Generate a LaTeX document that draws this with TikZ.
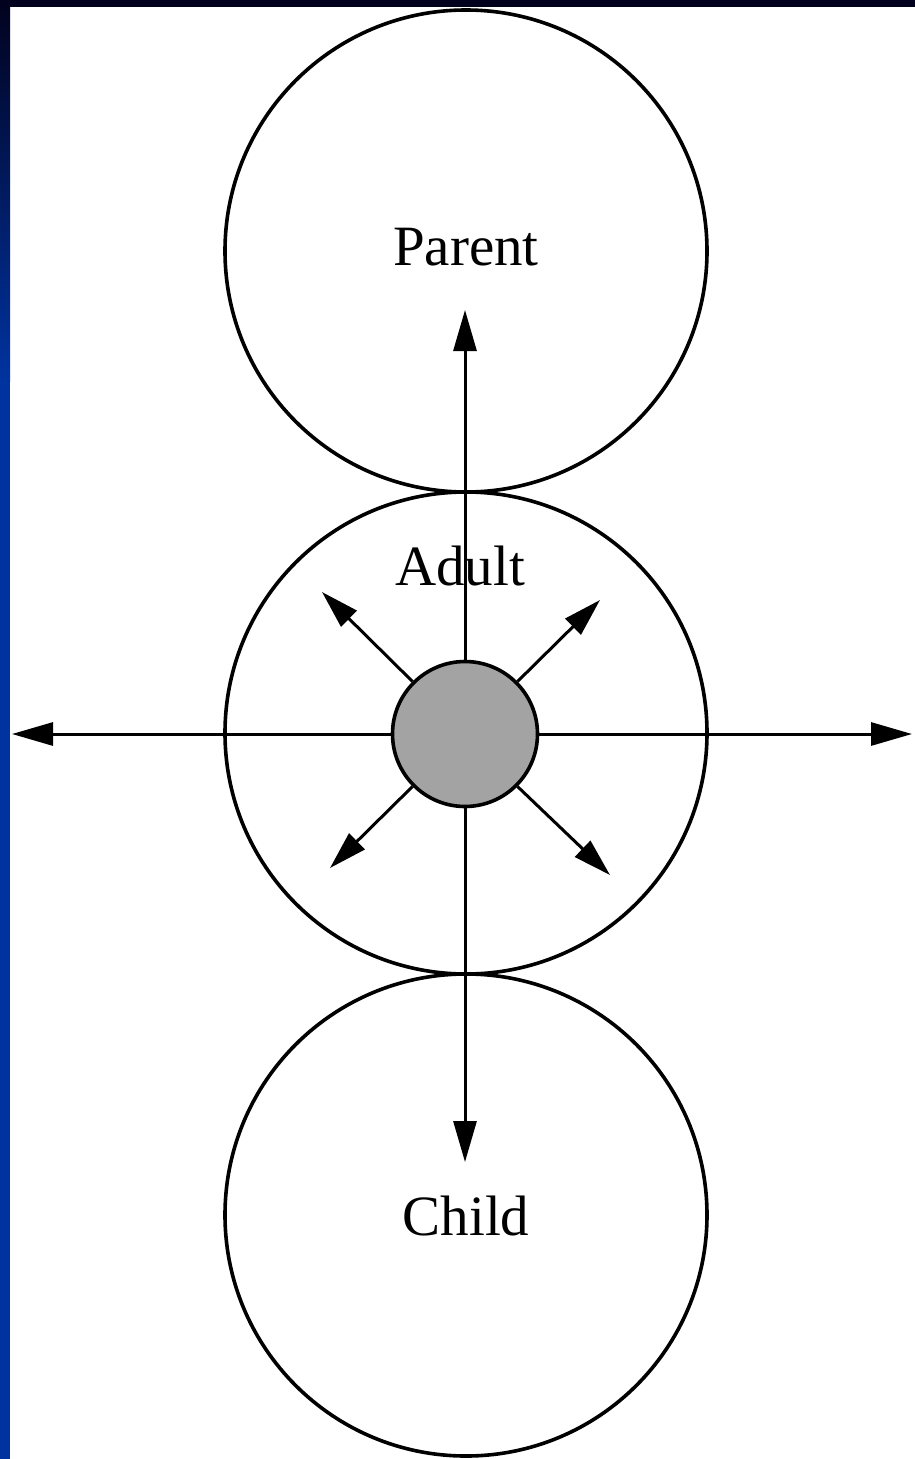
\documentclass[tikz,border=0pt]{standalone}
\usepackage{fontspec}
\setmainfont{Liberation Serif}
\usetikzlibrary{arrows.meta}
\definecolor{navy}{RGB}{2,2,30}
\definecolor{slideblue}{RGB}{0,51,160}
\definecolor{coregray}{RGB}{163,163,163}
\tikzset{
  ring/.style={circle, draw=black, line width=3.6pt, inner sep=0pt, minimum size=482pt},
  core/.style={circle, draw=black, fill=coregray, line width=3.6pt, inner sep=0pt, minimum size=145pt},
  lbl/.style={anchor=base, font=\fontsize{57}{60}\selectfont, inner sep=0pt},
  arr/.style={line width=3pt, -{Triangle[length=41pt,width=23pt]}},
  darr/.style={line width=3pt, -{Triangle[length=38pt,width=22pt]}}
}
\begin{document}
\begin{tikzpicture}[x=1pt,y=-1pt]
\useasboundingbox (0,0) rectangle (915,1459);
% background
\fill[white] (0,0) rectangle (915,1459);
\fill[slideblue] (0,380) rectangle (10,1459);
\shade[top color=navy, bottom color=slideblue] (0,0) rectangle (10,381);
\fill[navy] (0,0) rectangle (915,7);
% circles
\node[ring] (parent) at (466,251) {};
\node[ring] (adult) at (466,733) {};
\node[ring] (child) at (466,1215) {};
% labels
\node[lbl] (tparent) at (466,265) {Parent};
\node[lbl] (tadult) at (460,585) {Adult};
\node[lbl] (tchild) at (466,1235) {Child};
% core
\node[core] (c) at (465,734) {};
% arrow ends
\coordinate (up) at (465,310);
\coordinate (down) at (465,1162);
\coordinate (left) at (12,734);
\coordinate (right) at (912,734);
\coordinate (ul) at (322,592);
\coordinate (ur) at (600,600);
\coordinate (dl) at (330,868);
\coordinate (dr) at (610,875);
\draw[arr] (c.north) -- (up);
\draw[arr] (c.south) -- (down);
\draw[arr] (c.west) -- (left);
\draw[arr] (c.east) -- (right);
\draw[darr] (c.135) -- (ul);
\draw[darr] (c.45) -- (ur);
\draw[darr] (c.-135) -- (dl);
\draw[darr] (c.-45) -- (dr);
\end{tikzpicture}
\end{document}
